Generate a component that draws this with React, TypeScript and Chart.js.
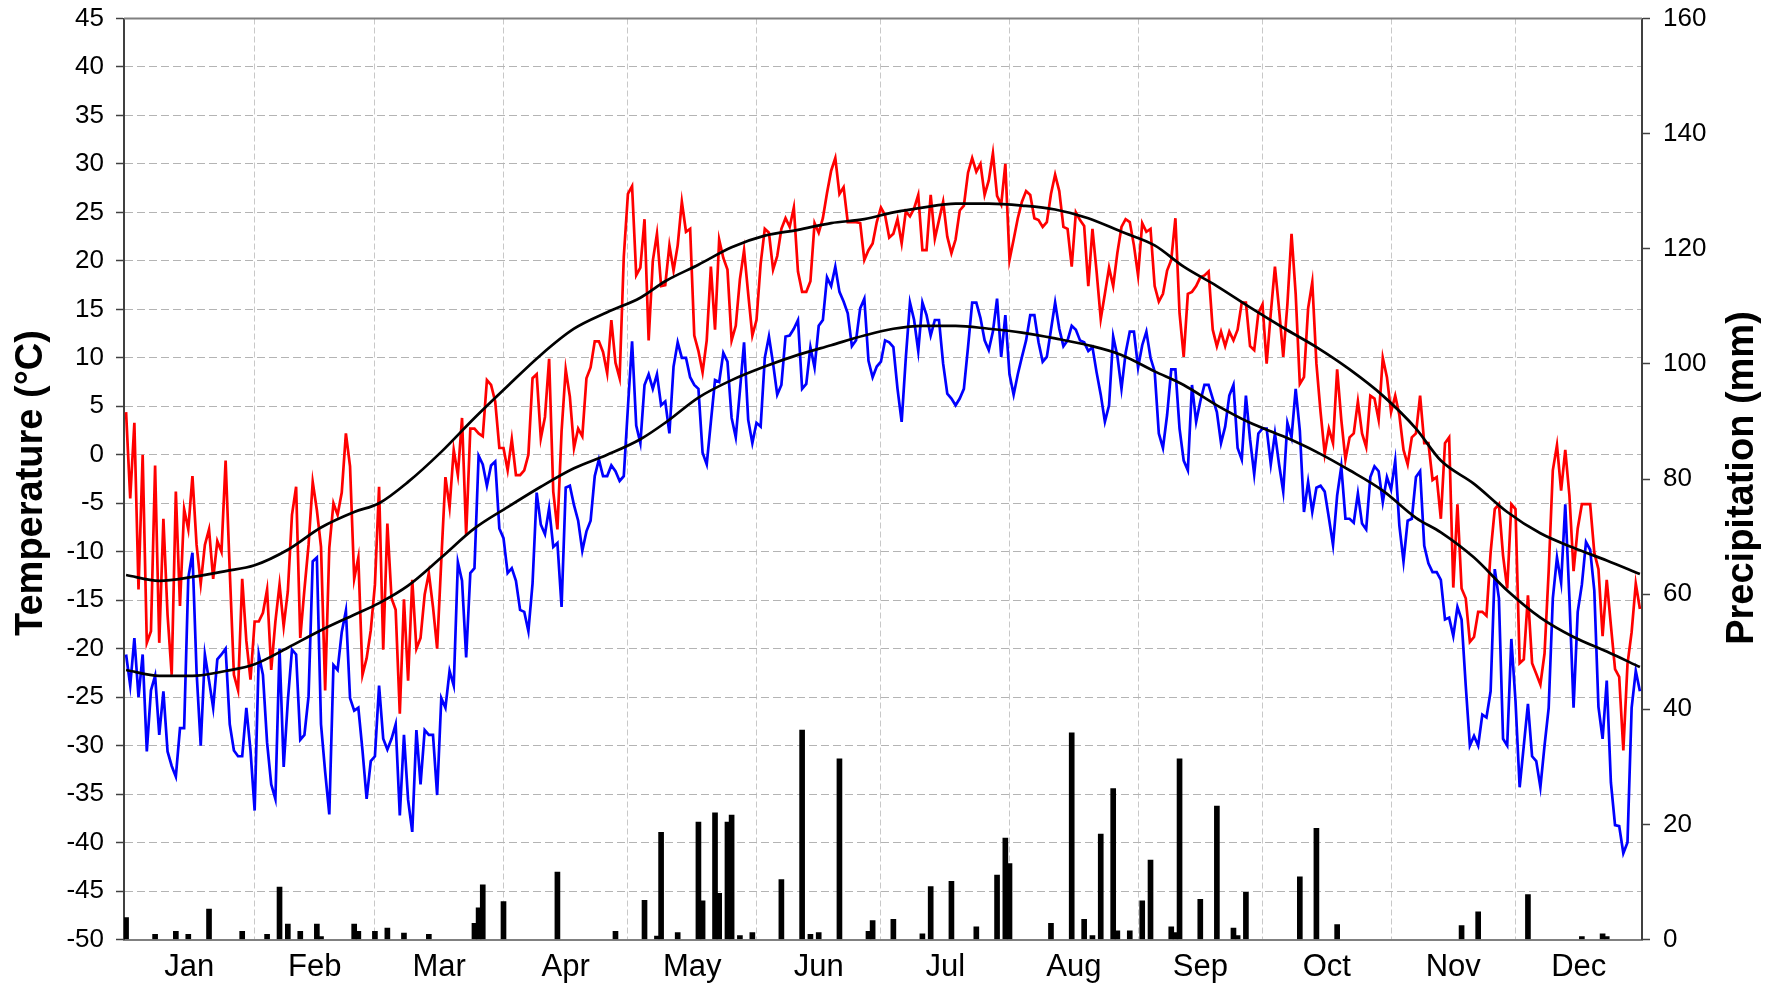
import React, { useEffect, useRef } from 'react';
import { Chart, registerables } from 'chart.js';

Chart.register(...registerables);

const FONT = '"Liberation Sans", Arial, sans-serif';

// months: first day index of each month (leap year, 366 days)
const monthNames = ['Jan', 'Feb', 'Mar', 'Apr', 'May', 'Jun', 'Jul', 'Aug', 'Sep', 'Oct', 'Nov', 'Dec'];
const monthStarts = [0, 31, 60, 91, 121, 152, 182, 213, 244, 274, 305, 335];

// daily maximum temperature (°C)
const tMax = [
  4.4, -4.5, 3.3, -13.9, 0, -19.4, -18.2, -1.1, -19.4, -6.6,
  -16.5, -22.7, -3.8, -15.6, -5.6, -7.7, -2.2, -9.3, -13.3, -9.3,
  -7.7, -12.8, -8.9, -10, -0.6, -12, -22.7, -24.3, -12.8, -19.2,
  -23.2, -17.2, -17.2, -16.3, -13.9, -22.2, -17.2, -13.4, -17.7, -14.1,
  -6.2, -3.3, -18.9, -13.9, -9.3, -2.8, -5.7, -9.5, -24.3, -9.6,
  -5, -6.2, -3.9, 2.2, -1.2, -12.8, -10.6, -22.7, -21, -18.1,
  -13.4, -3.3, -20.1, -7.1, -14.8, -16, -26.7, -14.9, -23.3, -12.9,
  -20, -18.9, -14.4, -12.2, -15.7, -20, -10.9, -2.3, -5.4, 0.5,
  -2.1, 3.8, -8.3, 2.7, 2.7, 2.2, 1.9, 7.7, 7.2, 5.5,
  0.7, 0.7, -1.6, 1.6, -2.1, -2.1, -1.6, 0, 7.9, 8.3,
  1.7, 3.9, 9.9, -3.8, -7.7, 2.4, 8.8, 6, 0.7, 2.7,
  1.9, 7.9, 9, 11.7, 11.7, 10.6, 8.4, 13.9, 9.5, 7.9,
  20.4, 26.9, 27.7, 18.5, 19.3, 24.3, 11.8, 20, 22.8, 17.4,
  17.5, 21.6, 19, 21.6, 26.1, 23, 23.3, 12.3, 10.7, 8.5,
  11.8, 19.4, 12.9, 22.2, 20.3, 19.1, 11.8, 13.3, 18.1, 21.1,
  16.6, 12.3, 13.9, 19.7, 23.3, 22.9, 19.1, 20.5, 23.3, 24.4,
  23.5, 25.5, 18.9, 16.8, 16.8, 17.9, 23.9, 22.9, 24.4, 27,
  29.3, 30.6, 26.9, 27.6, 24, 24, 24, 23.9, 20.1, 21.1,
  21.8, 24, 25.5, 24.7, 22.4, 22.8, 24.3, 21.8, 25.1, 24.6,
  25.4, 26.8, 21.1, 21.1, 26.8, 22.3, 24.2, 26.1, 22.5, 20.8,
  22.2, 25.2, 25.7, 29.1, 30.6, 29.2, 30, 26.8, 28.3, 31.1,
  26.7, 25.8, 30, 20.1, 22.2, 24.4, 26.1, 27.2, 26.8, 24.4,
  24.2, 23.5, 24, 26.9, 28.9, 27.2, 23.5, 23.3, 19.4, 25,
  24.2, 23.6, 17.4, 23.3, 18.9, 14, 16.6, 19.3, 17.4, 20.8,
  23.5, 24.3, 24, 21.6, 18.5, 23.9, 23, 23.3, 17.4, 15.8,
  16.6, 19, 20.1, 24.4, 14.6, 10.1, 16.6, 16.8, 17.4, 18.3,
  18.5, 18.9, 12.9, 11.2, 12.7, 11.2, 12.7, 11.8, 12.9, 15.7,
  15.7, 11.2, 10.8, 14.6, 15.5, 9.4, 14.6, 19.4, 15, 10.1,
  15.5, 22.8, 16.6, 7.3, 8, 15.1, 17.8, 9.4, 4.4, 0.1,
  2.7, 1.2, 8.8, 3.6, -0.5, 1.8, 2.2, 5.5, 2.2, 0.8,
  6.1, 5.8, 3.6, 10, 8, 4.4, 6.1, 4.1, 0.5, -1,
  1.8, 2.2, 6.1, 1.2, 1.2, -2.6, -2.3, -6.6, 1.2, 1.8,
  -13.7, -5.1, -13.8, -14.8, -19.3, -18.8, -16.2, -16.2, -16.6, -10.1,
  -5.6, -5.1, -10.4, -13.8, -5.1, -5.6, -21.5, -21.1, -14.5, -21.5,
  -22.6, -23.7, -20.5, -12, -1.6, 1, -3.7, 0.5, -4.2, -12,
  -7.6, -5.1, -5.1, -5.1, -10.1, -11.8, -18.7, -12.9, -17.6, -22.1,
  -22.9, -30.5, -21.6, -18.3, -13.3, -15.9,
];

// daily minimum temperature (°C)
const tMin = [
  -20.6, -23.8, -18.9, -25, -20.6, -30.6, -24.3, -22.8, -28.9, -24.4,
  -30.6, -32.1, -33.2, -28.2, -28.2, -12.7, -10.1, -22.4, -30, -20.6,
  -23.3, -26.1, -21.1, -20.6, -20, -27.8, -30.5, -31.1, -31.1, -26.1,
  -30.5, -36.7, -20.6, -22.7, -29.7, -34, -35.5, -20, -32.2, -25.4,
  -20.1, -20.6, -29.4, -28.9, -24.9, -11, -10.6, -27.8, -32.7, -37.1,
  -21.7, -22.2, -18.3, -16.1, -25.1, -26.4, -26.1, -30.5, -35.5, -31.6,
  -31.1, -23.8, -29.3, -30.4, -29.3, -27.8, -37.2, -28.9, -35.6, -38.9,
  -28.4, -34, -28.4, -28.9, -28.9, -35.1, -25.1, -26.1, -22.3, -23.8,
  -11.1, -13, -20.9, -12.2, -11.7, -0.1, -1, -3.2, -1.1, -0.7,
  -7.6, -8.6, -12.2, -11.7, -13, -16, -16.2, -18.2, -13.3, -3.9,
  -7.2, -8.2, -5.5, -9.5, -9.1, -15.7, -3.4, -3.2, -5.2, -6.8,
  -9.9, -7.9, -6.8, -2.2, -0.5, -2.2, -2.2, -1.1, -1.7, -2.7,
  -2.2, 4.9, 11.7, 3, 1.2, 7.2, 8.3, 6.8, 8.3, 5.1,
  5.5, 2.2, 9.1, 11.6, 10, 10, 8, 7.2, 6.8, 0.2,
  -1, 3.4, 7.7, 7.5, 10.5, 9.6, 3.8, 1.8, 6.6, 11.6,
  3.6, 1.2, 3.3, 2.9, 10, 12.2, 9.4, 6.2, 7.2, 12.2,
  12.3, 13, 13.9, 6.8, 7.3, 11.1, 9, 13.3, 13.9, 18.3,
  17.4, 19.4, 16.8, 15.8, 14.6, 11.2, 11.8, 15.1, 16.1, 9.7,
  8, 9.1, 9.6, 11.8, 11.6, 11.1, 6.8, 3.4, 10, 15.7,
  13.9, 10.7, 15.7, 14.4, 12.3, 13.9, 13.9, 9.4, 6.3, 5.8,
  5.1, 5.8, 6.8, 11.1, 15.7, 15.7, 14.1, 11.8, 10.8, 12.7,
  16.1, 10.1, 14.4, 8.3, 6.2, 8.3, 10.1, 11.8, 14.4, 14.4,
  11.6, 9.6, 10.1, 12.9, 15.7, 13, 11.2, 11.8, 13.3, 12.9,
  11.8, 11.6, 10.7, 11.1, 8.5, 6.2, 3.4, 5.1, 12.2, 10.2,
  6.8, 10.5, 12.7, 12.7, 9, 11.3, 12.7, 10, 8.6, 2.2,
  0.7, 4.1, 8.8, 8.8, 2.7, -0.6, -1.6, 7.2, 3.4, 5.5,
  7.2, 7.2, 5.8, 4.4, 1.2, 2.9, 6.1, 7.2, 0.7, -0.5,
  6.1, 1.6, -2, 2.2, 2.7, 2.7, -1, 2.2, -1, -3.8,
  3.3, 1.8, 6.8, 2.5, -5.9, -2.8, -5.9, -3.4, -3.2, -3.8,
  -6.5, -9.3, -4.2, -1.2, -6.6, -6.6, -7, -4, -7.1, -7.7,
  -2.3, -1.2, -1.7, -4.9, -2.3, -3.6, -0.6, -7.3, -11, -6.8,
  -6.6, -2.3, -1.7, -9.4, -11.2, -12.1, -12.1, -12.9, -17, -16.8,
  -18.7, -15.7, -17, -23.8, -30, -29, -30, -26.8, -27.1, -24.4,
  -11.8, -14.8, -29.3, -30, -19, -25.4, -34.3, -30, -25.7, -31.1,
  -31.6, -34.3, -30, -26.1, -14.8, -10.6, -13.2, -5.1, -14.8, -26.1,
  -16.2, -13.4, -9, -9.8, -14, -26, -29.3, -23.3, -33.8, -38.2,
  -38.3, -41.1, -40, -26.1, -22.3, -24.4,
];

// smoothed normals, read at these day indices
const normalDays = [
  0, 8, 16, 24, 31, 39, 47, 55, 61, 68, 76, 84, 92, 100, 108, 116, 124, 130, 138, 146,
  154, 162, 170, 178, 185, 192, 200, 208, 216, 224, 232, 240, 248, 255, 263, 271, 279, 287,
  295, 303, 311, 317, 325, 333, 341, 349, 357, 365,
];
const normalMax = [
  -12.4, -13, -12.6, -12, -11.4, -9.8, -7.5, -5.9, -5, -2.8, 0.3, 3.8, 7.1, 10.3, 13, 14.7, 16.2, 17.9, 19.6, 21.4,
  22.6, 23.2, 23.9, 24.3, 25, 25.5, 25.9, 25.9, 25.7, 25.3, 24.4, 23, 21.6, 19.4, 17.4, 15.2, 13.1, 11.1,
  8.8, 6.1, 2.7, -0.6, -3, -5.9, -8.1, -9.6, -10.9, -12.3,
];
const normalMin = [
  -22.2, -22.8, -22.8, -22.3, -21.6, -19.9, -18.1, -16.5, -15.3, -13.5, -10.6, -7.6, -5.4, -3.3, -1.4, 0, 1.6, 3.3, 5.9, 7.7,
  9.1, 10.3, 11.3, 12.3, 13, 13.3, 13.3, 13, 12.6, 12, 11.3, 10.3, 8.6, 7.2, 5.1, 3.3, 1.9, 0.3,
  -1.6, -3.7, -6.5, -8, -10.6, -14, -16.8, -18.8, -20.3, -21.9,
];

// daily precipitation (mm), only days with rain
const precipDays = [
  0, 7, 12, 15, 20, 28, 34, 37, 39, 42, 46, 47, 55, 56, 60, 63, 67, 73, 84, 85,
  86, 91, 104, 118, 125, 128, 129, 133, 138, 139, 142, 143, 145, 146, 148, 151, 158, 163, 165, 167,
  172, 179, 180, 185, 192, 194, 199, 205, 210, 212, 213, 223, 228, 231, 233, 235, 238, 239, 242, 245,
  247, 252, 253, 254, 259, 263, 267, 268, 270, 283, 287, 292, 322, 326, 338, 351, 356, 357,
];
const precipMm = [
  3.8, 0.9, 1.4, 0.9, 5.3, 1.4, 0.9, 9.1, 2.7, 1.4, 2.7, 0.5, 2.7, 1.4, 1.4, 2, 1.1, 0.9, 2.8, 5.5,
  9.5, 6.6, 11.7, 1.4, 6.8, 0.6, 18.6, 1.2, 20.4, 6.7, 22, 8, 20.4, 21.6, 0.7, 1.2, 10.4, 36.4, 0.9, 1.2,
  31.4, 1.4, 3.3, 3.5, 1, 9.2, 10.1, 2.2, 11.2, 17.6, 13.2, 2.8, 35.9, 3.5, 0.7, 18.3, 26.2, 1.5, 1.5, 6.7,
  13.8, 2.2, 1.2, 31.4, 7, 23.2, 2, 0.7, 8.2, 10.9, 19.3, 2.6, 2.4, 4.8, 7.8, 0.5, 1, 0.5,
];

const DAY_COUNT = tMax.length;
const gridDays = monthStarts.slice(1);
const labelDays = monthStarts.map((s, m) => {
  const a = m === 0 ? -0.5 : s;
  const b = m === 11 ? DAY_COUNT - 0.5 : monthStarts[m + 1];
  return (a + b) / 2;
});

const axisTitles = {
  id: 'axisTitles',
  beforeDatasetsDraw(chart: Chart) {
    const { ctx, chartArea } = chart;
    // solid frame on top
    ctx.save();
    ctx.strokeStyle = '#808080';
    ctx.lineWidth = 2;
    ctx.beginPath();
    ctx.moveTo(chartArea.left, chartArea.top);
    ctx.lineTo(chartArea.right, chartArea.top);
    ctx.stroke();
    ctx.restore();
  },
  afterDraw(chart: Chart) {
    const { ctx, chartArea } = chart;
    const cy = (chartArea.top + chartArea.bottom) / 2;
    ctx.save();
    ctx.font = `bold 38px ${FONT}`;
    ctx.fillStyle = '#000';
    ctx.textAlign = 'center';
    ctx.textBaseline = 'alphabetic';
    ctx.translate(42, cy + 4);
    ctx.rotate(-Math.PI / 2);
    ctx.fillText('Temperature (°C)', 0, 0);
    ctx.restore();

    ctx.save();
    ctx.font = `bold 38px ${FONT}`;
    ctx.fillStyle = '#000';
    ctx.textAlign = 'center';
    ctx.textBaseline = 'alphabetic';
    ctx.translate(1753, cy - 1);
    ctx.rotate(-Math.PI / 2);
    ctx.fillText('Precipitation (mm)', 0, 0);
    ctx.restore();
  },
};

const noEdgePadding = (scale: any) => {
  scale.paddingTop = 0;
  scale.paddingBottom = 0;
  scale.paddingLeft = 0;
  scale.paddingRight = 0;
};

const ClimateChart: React.FC = () => {
  const chartRef = useRef<HTMLCanvasElement>(null);
  const chartInstanceRef = useRef<Chart | null>(null);

  useEffect(() => {
    if (!chartRef.current) return;
    const ctx = chartRef.current.getContext('2d');
    if (!ctx) return;
    if (chartInstanceRef.current) chartInstanceRef.current.destroy();

    chartInstanceRef.current = new Chart(ctx, {
      type: 'line',
      data: {
        datasets: [
          {
            label: 'Normal max',
            data: normalDays.map((d, k) => ({ x: d, y: normalMax[k] })),
            borderColor: '#000',
            borderWidth: 2.7,
            pointRadius: 0,
            cubicInterpolationMode: 'monotone',
            yAxisID: 'y',
            order: 0,
          },
          {
            label: 'Normal min',
            data: normalDays.map((d, k) => ({ x: d, y: normalMin[k] })),
            borderColor: '#000',
            borderWidth: 2.7,
            pointRadius: 0,
            cubicInterpolationMode: 'monotone',
            yAxisID: 'y',
            order: 0,
          },
          {
            label: 'Min',
            data: tMin.map((v, i) => ({ x: i, y: v })),
            borderColor: '#0000ff',
            borderWidth: 2.7,
            pointRadius: 0,
            tension: 0,
            yAxisID: 'y',
            order: 1,
          },
          {
            label: 'Max',
            data: tMax.map((v, i) => ({ x: i, y: v })),
            borderColor: '#ff0000',
            borderWidth: 2.7,
            pointRadius: 0,
            tension: 0,
            yAxisID: 'y',
            order: 2,
          },
          {
            type: 'bar',
            label: 'Precipitation',
            data: precipDays.map((d, k) => ({ x: d, y: precipMm[k] })),
            backgroundColor: '#000',
            barThickness: 5,
            yAxisID: 'yP',
            order: 3,
          } as any,
        ],
      },
      options: {
        responsive: true,
        maintainAspectRatio: false,
        animation: false,
        events: [],
        layout: { padding: { top: 18.5, left: 0, right: 0, bottom: 0 } },
        plugins: {
          legend: { display: false },
          tooltip: { enabled: false },
        },
        scales: {
          x: {
            type: 'linear',
            position: 'bottom',
            offset: false,
            min: -0.5,
            max: DAY_COUNT - 0.5,
            afterBuildTicks: (scale: any) => {
              scale.ticks = [...gridDays, ...labelDays]
                .sort((a, b) => a - b)
                .map((v) => ({ value: v }));
            },
            afterFit: (scale: any) => {
              scale.height = 45.5;
              noEdgePadding(scale);
            },
            ticks: {
              autoSkip: false,
              maxRotation: 0,
              padding: 9,
              color: '#000',
              font: { family: FONT, size: 31 },
              callback: (value: any) => {
                const m = labelDays.indexOf(Number(value));
                return m >= 0 ? monthNames[m] : '';
              },
            },
            grid: {
              offset: false,
              drawTicks: false,
              lineWidth: 1,
              color: (c: any) =>
                c.tick && gridDays.includes(c.tick.value) ? '#c8c8c8' : 'rgba(0,0,0,0)',
            },
            border: { display: true, color: '#808080', width: 2, dash: [6, 3] },
          },
          y: {
            type: 'linear',
            position: 'left',
            min: -50,
            max: 45,
            afterFit: (scale: any) => {
              scale.width = 124;
              noEdgePadding(scale);
            },
            ticks: {
              stepSize: 5,
              padding: 12,
              color: '#000',
              font: { family: FONT, size: 26 },
            },
            grid: {
              color: '#b4b4b4',
              lineWidth: 1,
              tickLength: 8,
              tickColor: '#404040',
              tickWidth: 1.5,
              tickBorderDash: [],
            },
            border: { display: true, color: '#404040', width: 2, dash: [8, 4] },
          },
          yP: {
            type: 'linear',
            position: 'right',
            min: 0,
            max: 160,
            afterFit: (scale: any) => {
              scale.width = 141;
              noEdgePadding(scale);
            },
            ticks: {
              stepSize: 20,
              padding: 13,
              color: '#000',
              font: { family: FONT, size: 26 },
            },
            grid: {
              drawOnChartArea: false,
              tickLength: 8,
              tickColor: '#404040',
              tickWidth: 1.5,
            },
            border: { display: true, color: '#404040', width: 2 },
          },
        },
      },
      plugins: [axisTitles],
    } as any);

    return () => {
      if (chartInstanceRef.current) {
        chartInstanceRef.current.destroy();
        chartInstanceRef.current = null;
      }
    };
  }, []);

  return (
    <div style={{ position: 'absolute', left: 0, top: 0, width: 1783, height: 985, background: '#fff' }}>
      <canvas ref={chartRef}></canvas>
    </div>
  );
};

export default function App() {
  return <ClimateChart />;
}
